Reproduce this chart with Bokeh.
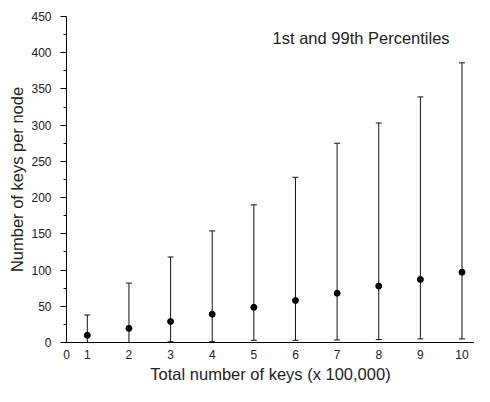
from bokeh.plotting import figure
from bokeh.models import (ColumnDataSource, Range1d, FixedTicker, Whisker, TeeHead, Label)
from bokeh.embed import file_html
from bokeh.resources import INLINE

# Data
x_vals = [1, 2, 3, 4, 5, 6, 7, 8, 9, 10]
mean_vals = [10, 19.5, 29, 39, 48.5, 58, 68, 78, 87, 97]
p99_vals = [38, 82, 118, 154, 190, 228, 275, 303, 339, 386]
p1_vals = [0, 0, 1, 1, 3, 3, 3.5, 4, 5, 5]
x_tick_vals = [0.5, 1, 2, 3, 4, 5, 6, 7, 8, 9, 10]
y_tick_vals = [0, 50, 100, 150, 200, 250, 300, 350, 400, 450]

src = ColumnDataSource(dict(x=x_vals, mean=mean_vals, upper=p99_vals, lower=p1_vals))

FONT = "Liberation Sans"
p = figure(width=474, height=386, output_backend="svg", toolbar_location=None,
           x_range=Range1d(0.5, 10.3), y_range=Range1d(0, 450),
           min_border_left=66, min_border_right=0, min_border_top=16, min_border_bottom=44)
p.outline_line_color = None
p.xgrid.grid_line_color = None
p.ygrid.grid_line_color = None
p.background_fill_color = "white"

w = Whisker(source=src, base="x", upper="upper", lower="lower",
            line_color="#111111", line_width=1,
            upper_head=TeeHead(size=6, line_color="#111111", line_width=1),
            lower_head=TeeHead(size=6, line_color="#111111", line_width=1))
p.add_layout(w)
p.scatter("x", "mean", source=src, size=6, color="black")

# x axis
xa = p.xaxis[0]
xa.ticker = FixedTicker(ticks=x_tick_vals)
xa.major_label_overrides = {0.5: "0"}
xa.major_tick_line_color = None
xa.minor_tick_line_color = None
xa.axis_line_color = "black"
xa.major_label_text_font = FONT
xa.major_label_text_font_size = "12px"
xa.major_label_text_color = "#222222"
xa.major_label_standoff = 1
xa.axis_label = "Total number of keys (x 100,000)"
xa.axis_label_text_font = FONT
xa.axis_label_text_font_size = "16.5px"
xa.axis_label_text_font_style = "normal"
xa.axis_label_text_color = "#222222"
xa.axis_label_standoff = 3

# y axis
ya = p.yaxis[0]
ya.ticker = FixedTicker(ticks=y_tick_vals, minor_ticks=list(range(25, 450, 50)))
ya.axis_line_color = "black"
ya.major_tick_in = 0
ya.major_tick_out = 6
ya.minor_tick_in = 0
ya.minor_tick_out = 3
ya.major_tick_line_color = "black"
ya.minor_tick_line_color = "black"
ya.major_label_text_font = FONT
ya.major_label_text_font_size = "12px"
ya.major_label_text_color = "#222222"
ya.major_label_standoff = 9
ya.axis_label = "Number of keys per node"
ya.axis_label_text_font = FONT
ya.axis_label_text_font_size = "16.5px"
ya.axis_label_text_font_style = "normal"
ya.axis_label_text_color = "#222222"
ya.axis_label_standoff = 2

title = Label(x=5.45, y=421, text="1st and 99th Percentiles",
              text_font=FONT, text_font_size="16.5px", text_color="#222222",
              text_baseline="alphabetic")
p.add_layout(title)

open("out.html", "w").write(file_html(p, INLINE))
